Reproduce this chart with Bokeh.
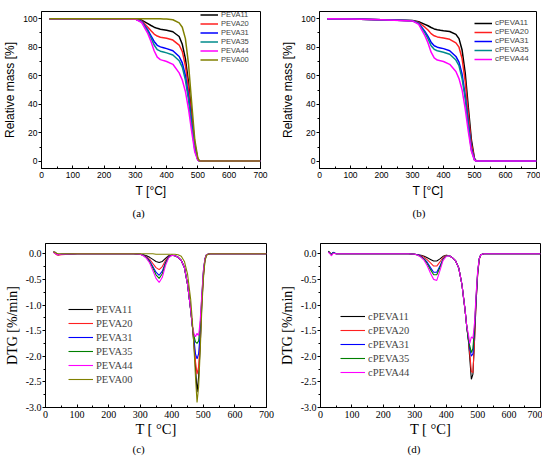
from bokeh.plotting import figure
from bokeh.layouts import column, row
from bokeh.models import SingleIntervalTicker, Title, PrintfTickFormatter
from bokeh.embed import file_html
from bokeh.resources import INLINE

# ---------------- data ----------------
T_tga = [25, 100, 200, 300, 320, 340, 350, 360, 370, 380, 390, 400, 420, 440, 450, 460, 470, 480, 490, 500, 505, 510, 600, 700]

PEVA11 = [100, 100, 100, 99.8, 99.0, 96.5, 95.2, 94.0, 93.2, 92.6, 92.2, 91.8, 90.8, 87.5, 82.0, 72.0, 55.0, 33.0, 12.0, 1.2, 0.3, 0.2, 0.2, 0.2]
PEVA20 = [100, 100, 100, 99.8, 98.5, 94.0, 91.5, 89.2, 87.8, 87.0, 86.6, 86.2, 85.0, 81.5, 77.0, 67.0, 51.0, 30.0, 10.5, 1.0, 0.3, 0.2, 0.2, 0.2]
PEVA31 = [100, 100, 100, 99.7, 98.0, 92.0, 88.0, 84.0, 81.3, 80.2, 79.6, 79.0, 77.5, 73.5, 69.0, 60.0, 45.5, 27.0, 9.0, 0.9, 0.3, 0.2, 0.2, 0.2]
PEVA35 = [100, 100, 100, 99.7, 97.8, 91.0, 86.5, 81.5, 78.3, 77.2, 76.6, 76.0, 74.5, 70.5, 66.0, 57.0, 43.0, 25.0, 8.0, 0.8, 0.3, 0.2, 0.2, 0.2]
PEVA44 = [100, 100, 100, 99.6, 97.3, 89.5, 84.0, 77.5, 73.0, 71.3, 70.6, 70.0, 68.0, 62.0, 57.0, 49.0, 36.5, 21.0, 6.5, 0.7, 0.3, 0.2, 0.2, 0.2]
PEVA00 = [100, 100, 100, 100, 100, 100, 100, 100, 100, 99.9, 99.8, 99.7, 99.2, 97.0, 94.0, 86.0, 68.0, 41.0, 15.0, 2.0, 0.4, 0.2, 0.2, 0.2]

cPEVA11 = [100, 99.8, 99.3, 98.7, 97.8, 96.0, 95.0, 93.8, 92.8, 92.2, 91.8, 91.5, 91.0, 89.0, 86.0, 78.0, 62.0, 38.0, 15.0, 2.0, 0.5, 0.3, 0.3, 0.3]
cPEVA20 = [100, 99.8, 99.3, 98.6, 97.3, 94.0, 92.0, 89.5, 88.0, 87.2, 86.8, 86.5, 85.5, 83.0, 80.0, 72.0, 56.0, 33.0, 12.0, 1.5, 0.4, 0.3, 0.3, 0.3]
cPEVA31 = [100, 99.8, 99.2, 98.5, 96.8, 91.0, 87.5, 83.5, 81.0, 80.0, 79.5, 79.0, 77.5, 73.5, 69.5, 61.0, 46.0, 27.0, 9.0, 1.2, 0.4, 0.3, 0.3, 0.3]
cPEVA35 = [100, 99.8, 99.2, 98.5, 96.5, 90.0, 86.0, 81.0, 78.5, 77.5, 77.0, 76.5, 75.0, 71.0, 67.0, 58.0, 44.0, 25.0, 8.0, 1.0, 0.4, 0.3, 0.3, 0.3]
cPEVA44 = [100, 99.8, 99.2, 98.4, 96.0, 88.0, 83.0, 76.5, 72.5, 71.0, 70.5, 70.0, 68.0, 63.0, 58.0, 50.0, 37.0, 21.0, 7.0, 0.8, 0.3, 0.3, 0.3, 0.3]

T_dtg = [25, 30, 35, 40, 50, 100, 200, 280, 300, 310, 320, 330, 340, 350, 360, 370, 380, 390, 400, 410, 420, 430, 440, 450, 460, 465, 470, 475, 480, 485, 490, 495, 500, 505, 510, 520, 600, 700]

dPEVA11 = [0.04, 0.03, 0.00, -0.02, -0.01, 0, 0, 0, -0.01, -0.02, -0.04, -0.07, -0.11, -0.15, -0.17, -0.15, -0.09, -0.04, -0.03, -0.04, -0.07, -0.13, -0.27, -0.60, -1.10, -1.40, -1.75, -2.20, -2.70, -2.40, -1.80, -1.00, -0.45, -0.12, -0.02, 0, 0, 0]
dPEVA20 = [0.03, 0.01, -0.02, -0.03, -0.02, 0, 0, 0, -0.01, -0.03, -0.06, -0.11, -0.19, -0.27, -0.31, -0.25, -0.13, -0.05, -0.03, -0.04, -0.07, -0.13, -0.27, -0.60, -1.10, -1.40, -1.70, -2.10, -2.35, -2.20, -1.70, -0.95, -0.40, -0.10, -0.02, 0, 0, 0]
dPEVA31 = [0.03, 0.02, 0.00, -0.02, -0.01, 0, 0, 0, -0.01, -0.03, -0.07, -0.14, -0.25, -0.36, -0.42, -0.34, -0.17, -0.06, -0.03, -0.04, -0.07, -0.13, -0.27, -0.60, -1.10, -1.40, -1.65, -1.95, -2.05, -1.95, -1.55, -0.90, -0.38, -0.10, -0.02, 0, 0, 0]
dPEVA35 = [0.03, 0.02, 0.00, -0.01, -0.01, 0, 0, 0, -0.01, -0.03, -0.08, -0.16, -0.28, -0.41, -0.48, -0.39, -0.19, -0.07, -0.03, -0.04, -0.07, -0.13, -0.27, -0.60, -1.10, -1.40, -1.60, -1.72, -1.75, -1.70, -1.40, -0.85, -0.35, -0.10, -0.02, 0, 0, 0]
dPEVA44 = [0.03, 0.01, -0.01, -0.02, -0.01, 0, 0, 0, -0.01, -0.04, -0.09, -0.18, -0.33, -0.48, -0.56, -0.46, -0.23, -0.08, -0.03, -0.04, -0.07, -0.13, -0.27, -0.60, -1.10, -1.40, -1.55, -1.62, -1.55, -1.60, -1.30, -0.80, -0.33, -0.10, -0.02, 0, 0, 0]
dPEVA00 = [0.04, 0.03, 0.01, 0.00, 0.00, 0, 0, 0, 0, 0, 0, 0, 0, -0.01, -0.01, -0.01, -0.01, -0.01, -0.01, -0.01, -0.02, -0.05, -0.15, -0.40, -0.90, -1.30, -1.80, -2.40, -2.90, -2.60, -1.90, -1.10, -0.50, -0.15, -0.03, 0, 0, 0]

dcPEVA11 = [0.05, 0.02, -0.02, 0.02, 0.00, 0, 0, 0, -0.01, -0.02, -0.03, -0.05, -0.08, -0.11, -0.14, -0.14, -0.10, -0.05, -0.03, -0.04, -0.08, -0.14, -0.28, -0.60, -1.10, -1.40, -1.65, -2.05, -2.45, -2.35, -1.70, -0.95, -0.40, -0.10, -0.02, 0, 0, 0]
dcPEVA20 = [0.04, 0.02, -0.02, 0.01, 0.00, 0, 0, 0, -0.01, -0.02, -0.04, -0.07, -0.12, -0.18, -0.24, -0.24, -0.16, -0.07, -0.03, -0.04, -0.08, -0.14, -0.28, -0.60, -1.10, -1.40, -1.65, -1.95, -2.30, -2.32, -1.70, -0.95, -0.42, -0.12, -0.02, 0, 0, 0]
dcPEVA31 = [0.04, 0.01, -0.01, 0.03, 0.00, 0, 0, 0, -0.01, -0.02, -0.05, -0.10, -0.17, -0.27, -0.36, -0.36, -0.24, -0.10, -0.04, -0.04, -0.08, -0.14, -0.28, -0.60, -1.10, -1.40, -1.65, -1.85, -2.00, -1.95, -1.50, -0.90, -0.38, -0.10, -0.02, 0, 0, 0]
dcPEVA35 = [0.04, 0.01, -0.02, 0.02, 0.00, 0, 0, 0, -0.01, -0.03, -0.06, -0.11, -0.20, -0.31, -0.41, -0.41, -0.27, -0.11, -0.04, -0.04, -0.08, -0.14, -0.28, -0.60, -1.10, -1.40, -1.65, -1.80, -1.93, -1.85, -1.45, -0.85, -0.36, -0.10, -0.02, 0, 0, 0]
dcPEVA44 = [0.03, 0.00, -0.04, 0.01, 0.00, 0, 0, 0, -0.01, -0.03, -0.07, -0.13, -0.24, -0.38, -0.50, -0.52, -0.33, -0.13, -0.05, -0.04, -0.08, -0.14, -0.28, -0.60, -1.10, -1.40, -1.55, -1.75, -1.62, -1.65, -1.35, -0.80, -0.34, -0.10, -0.02, 0, 0, 0]

names_a = ["PEVA11", "PEVA20", "PEVA31", "PEVA35", "PEVA44", "PEVA00"]
names_b = ["cPEVA11", "cPEVA20", "cPEVA31", "cPEVA35", "cPEVA44"]
x_label_top = "T [°C]"
x_label_bot = "T [ °C]"
y_label_tga = "Relative mass [%]"
y_label_dtg = "DTG [%/min]"
captions = ["(a)", "(b)", "(c)", "(d)"]

col_top = ["#000000", "#ff2020", "#0000ff", "#008b8b", "#ff00ff", "#808000"]
col_bot = ["#000000", "#ff2020", "#0000ff", "#008000", "#ff00ff", "#808000"]

SANS = "Liberation Sans"
SERIF = "Liberation Serif"


def style_axes(p, font, tick_size, ylab, ylab_size, yint, xlab, xlab_size, xlab_standoff, fmt=None):
    p.grid.visible = False
    p.outline_line_color = "black"
    p.outline_line_width = 1
    p.background_fill_color = "white"
    p.border_fill_color = "white"
    p.xaxis.ticker = SingleIntervalTicker(interval=100, num_minor_ticks=2)
    p.yaxis.ticker = SingleIntervalTicker(interval=yint, num_minor_ticks=2)
    if fmt:
        p.yaxis.formatter = PrintfTickFormatter(format=fmt)
    for ax in (p.xaxis[0], p.yaxis[0]):
        ax.axis_line_color = "black"
        ax.major_tick_line_color = "black"
        ax.minor_tick_line_color = "black"
        ax.major_label_text_font = font
        ax.major_label_text_font_size = tick_size
        ax.major_label_text_color = "black"
        ax.axis_label_text_font = font
        ax.axis_label_text_font_style = "normal"
        ax.axis_label_text_color = "black"
    xa = p.xaxis[0]
    xa.major_tick_in = 3
    xa.major_tick_out = 0
    xa.minor_tick_in = 2
    xa.minor_tick_out = 0
    xa.major_label_standoff = 3
    xa.axis_label = xlab
    xa.axis_label_text_font_size = xlab_size
    xa.axis_label_standoff = xlab_standoff
    ya = p.yaxis[0]
    ya.major_tick_in = 0
    ya.major_tick_out = 3
    ya.minor_tick_in = 0
    ya.minor_tick_out = 2
    ya.major_label_standoff = 1
    ya.axis_label = ylab
    ya.axis_label_text_font_size = ylab_size
    ya.axis_label_standoff = 3


def style_legend(p, font, size, loc, gw, gh, lh, standoff):
    lg = p.legend[0]
    lg.location = loc
    lg.padding = 0
    lg.margin = 0
    lg.spacing = 0
    lg.border_line_alpha = 0
    lg.background_fill_alpha = 0
    lg.label_text_font = font
    lg.label_text_font_size = size
    lg.glyph_width = gw
    lg.glyph_height = gh
    lg.label_height = lh
    lg.label_standoff = standoff


def caption(p, text, offset, standoff):
    p.add_layout(Title(text=text, align="left", offset=offset, standoff=standoff,
                       text_font=SERIF, text_font_size="11px", text_font_style="normal",
                       text_color="black"), "below")


# ---------------- (a) ----------------
pa = figure(width=275, height=235, x_range=(0, 700), y_range=(-5, 105),
            output_backend="svg", toolbar_location=None,
            min_border_left=41, min_border_right=15, min_border_top=8, min_border_bottom=67)
for nm, ys, c in zip(names_a, [PEVA11, PEVA20, PEVA31, PEVA35, PEVA44, PEVA00], col_top):
    pa.line(T_tga, ys, line_color=c, line_width=1.5, legend_label=nm)
style_axes(pa, SANS, "8.5px", y_label_tga, "12px", 20, x_label_top, "12px", 3)
style_legend(pa, SANS, "7.5px", (159, 104), 18, 7, 7, 3)
caption(pa, captions[0], 91, 8)

# ---------------- (b) ----------------
pb = figure(width=265, height=235, x_range=(0, 700), y_range=(-5, 105),
            output_backend="svg", toolbar_location=None,
            min_border_left=44, min_border_right=4, min_border_top=11, min_border_bottom=64)
for nm, ys, c in zip(names_b, [cPEVA11, cPEVA20, cPEVA31, cPEVA35, cPEVA44], col_top):
    pb.line(T_tga, ys, line_color=c, line_width=1.5, legend_label=nm)
style_axes(pb, SANS, "8.5px", y_label_tga, "12px", 20, x_label_top, "12px", 3)
style_legend(pb, SANS, "8px", (155, 105), 18, 8, 9, 3)
caption(pb, captions[1], 93, 8)

# ---------------- (c) ----------------
pc = figure(width=275, height=228, x_range=(0, 700), y_range=(-3.0, 0.2),
            output_backend="svg", toolbar_location=None,
            min_border_left=45, min_border_right=9, min_border_top=8, min_border_bottom=56)
for nm, ys, c in zip(names_a, [dPEVA11, dPEVA20, dPEVA31, dPEVA35, dPEVA44, dPEVA00], col_bot):
    pc.line(T_dtg, ys, line_color=c, line_width=1.1, legend_label=nm)
style_axes(pc, SERIF, "10px", y_label_dtg, "14px", 0.5, x_label_bot, "14.5px", 0, "%.1f")
style_legend(pc, SERIF, "10.5px", (23, 21), 25, 14, 14, 3)
caption(pc, captions[2], 87, 3)

# ---------------- (d) ----------------
pd_ = figure(width=267, height=228, x_range=(0, 700), y_range=(-3.0, 0.2),
             output_backend="svg", toolbar_location=None,
             min_border_left=45, min_border_right=2, min_border_top=8, min_border_bottom=56)
for nm, ys, c in zip(names_b, [dcPEVA11, dcPEVA20, dcPEVA31, dcPEVA35, dcPEVA44], col_bot):
    pd_.line(T_dtg, ys, line_color=c, line_width=1.1, legend_label=nm)
style_axes(pd_, SERIF, "10px", y_label_dtg, "14px", 0.5, x_label_bot, "14.5px", 0, "%.1f")
style_legend(pd_, SERIF, "10.5px", (20, 28), 25, 14, 14, 3)
caption(pd_, captions[3], 87, 3)

layout = column(row(pa, pb), row(pc, pd_))
open("out.html", "w").write(file_html(layout, INLINE))
